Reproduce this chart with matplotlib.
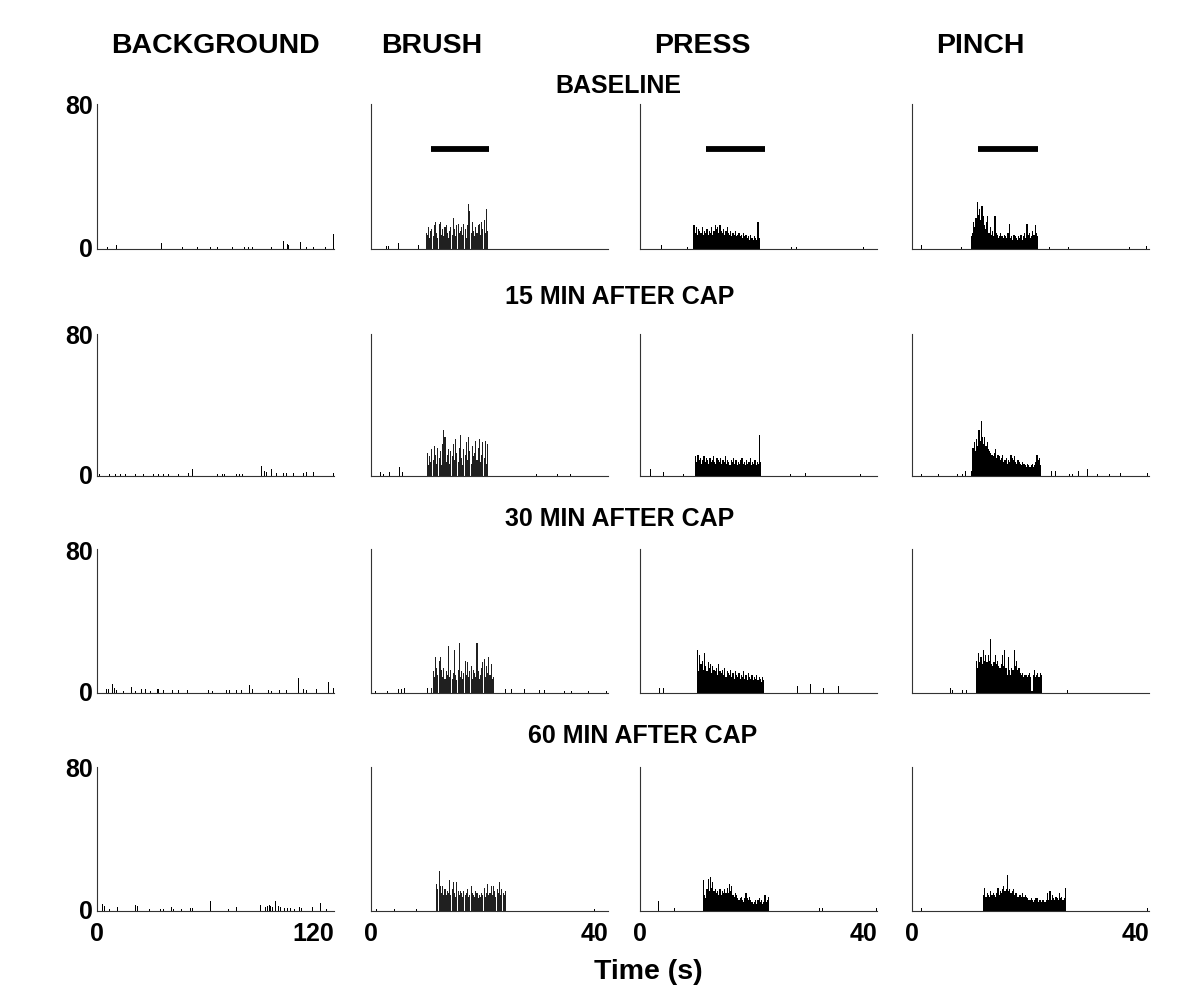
import matplotlib
matplotlib.use("Agg")
import matplotlib.pyplot as plt
import numpy as np

plt.rcParams['font.family'] = ['Liberation Sans', 'DejaVu Sans']

# ---------------- data ----------------
col_titles = ["BACKGROUND", "BRUSH", "PRESS", "PINCH"]
row_titles = ["BASELINE", "15 MIN AFTER CAP", "30 MIN AFTER CAP", "60 MIN AFTER CAP"]
y_max = 80
bg_range = 120
stim_range = 40
bin_w = 0.2      # s, for the 40-s stimulus panels
bg_bin_w = 0.5   # s, for the background panels

# Background panels: spike times (s) and rates (Hz)
bg0_t = [5.1, 9.7, 32.2, 42.9, 50.6, 57.1, 60.8, 67.6, 68.5, 74.4, 76.5, 78.7, 88.1,
         94.0, 96.1, 96.9, 102.9, 105.9, 109.4, 115.3, 119.4]
bg0_v = [1, 2.4, 3.3, 1, 1, 1, 1, 1, 1, 1, 1, 1.3, 1, 4.2, 3, 2, 3.9, 1, 1, 1, 8.3]
bg1_t = [1.2, 3.8, 6.3, 8.9, 11.4, 14.0, 19.1, 23.3, 28.5, 31.0, 33.6, 36.1, 41.2, 46.3,
         48.0, 60.8, 63.4, 64.2, 70.2, 71.9, 73.6, 82.9, 83.8, 84.6, 85.5, 88.1, 90.6,
         94.0, 95.7, 99.1, 104.2, 105.9, 107.6, 109.3, 119.4]
bg1_v = [1, 1, 1, 1, 1, 1, 1, 1, 1, 1, 1, 1, 1, 1.5, 3.7, 1, 1, 1, 1, 1, 1, 5.9, 2, 3,
         2.5, 3.7, 1.5, 1.5, 1.5, 1.5, 1.5, 2, 2.5, 2.5, 1.5]
bg2_t = [4.6, 5.5, 7.5, 8.5, 9.7, 13.1, 17.0, 19.1, 22.5, 24.2, 26.7, 30.2, 31.0, 33.6,
         37.8, 41.2, 45.5, 56.2, 58.3, 65.1, 66.8, 70.2, 72.8, 77.0, 78.7, 83.8, 86.4,
         88.1, 92.3, 95.7, 101.7, 104.2, 105.9, 111.1, 117.0, 119.4]
bg2_v = [2, 2.5, 5, 3, 1.5, 1, 3.5, 1, 2.5, 2.5, 1, 2, 2, 1.5, 1.5, 1.5, 1.5, 1.5, 1,
         1.5, 1.5, 1.5, 1.5, 4.2, 2, 1.5, 1.5, 1, 1.5, 1.5, 8.3, 2, 1.5, 2.5, 6, 3]
bg3_t = [2.6, 3.4, 5.9, 10.2, 19.1, 20.1, 26.4, 32.0, 33.2, 37.5, 38.3, 42.6, 47.3, 48.2,
         57.4, 66.4, 67.6, 70.2, 82.6, 85.2, 86.0, 86.9, 87.7, 88.6, 90.3, 91.5, 92.8,
         94.5, 96.2, 97.9, 99.6, 102.2, 103.1, 109.0, 112.8, 115.9]
bg3_v = [4, 3, 1, 2, 3.3, 3, 1.3, 1, 1, 2, 1, 1, 1.5, 1.5, 5.5, 1, 1, 2, 3.3, 2, 3, 3.3,
         3, 2.5, 5.5, 3, 2, 1.5, 1.5, 1.5, 1, 2, 1.5, 2, 4.6, 1]

# Stimulus panels: response onset (s) and binned rates (Hz, 0.2-s bins)
brush_start = [9.2, 9.4, 10.2, 11.0]
brush0 = [9, 8, 12, 6, 10, 11, 7, 13, 15, 9, 6, 14, 15, 8, 11, 7, 12, 13, 9, 6, 10, 12, 8, 17,
          11, 7, 13, 14, 9, 10, 12, 8, 14, 11, 6, 13, 25, 21, 9, 15, 10, 7, 12, 9, 13, 14, 8,
          15, 11, 16, 9, 22, 10]
brush1 = [13, 6, 11, 8, 15, 9, 17, 12, 7, 16, 10, 14, 6, 18, 26, 22, 8, 12, 15, 7, 14, 11, 18,
          9, 21, 13, 8, 16, 23, 10, 6, 15, 12, 19, 9, 22, 14, 7, 17, 11, 13, 20, 9, 16, 21, 8,
          12, 19, 10, 20, 7, 18]
brush2 = [3, 12, 9, 20, 14, 10, 18, 20, 13, 9, 14, 8, 12, 10, 26, 9, 13, 8, 11, 24, 10, 7, 13,
          28, 9, 12, 8, 11, 18, 10, 17, 9, 12, 15, 8, 13, 11, 9, 28, 12, 8, 10, 14, 17, 19, 9,
          15, 11, 20, 10, 16, 8, 9]
brush3 = [15, 12, 22, 14, 10, 14, 9, 12, 9, 11, 10, 17, 9, 12, 16, 10, 8, 16, 11, 9, 11, 10, 8,
          11, 9, 10, 12, 8, 9, 14, 10, 9, 8, 11, 10, 7, 9, 8, 10, 9, 13, 8, 10, 15, 9, 10, 14,
          9, 14, 11, 8, 12, 10, 16, 9, 12, 10, 9, 11]

press_start = [9.0, 9.3, 9.6, 10.6]
press0 = [13, 9, 12, 8, 11, 10, 9, 12, 8, 10, 9, 11, 8, 10, 9, 12, 8, 10, 13, 11, 12, 9, 13, 10,
          9, 11, 8, 10, 12, 9, 8, 10, 7, 9, 8, 10, 7, 8, 9, 7, 8, 6, 9, 7, 8, 6, 7, 5, 8, 6, 5,
          7, 6, 5, 15, 6]
press1 = [11, 8, 12, 9, 10, 7, 9, 11, 8, 10, 9, 7, 10, 8, 9, 11, 8, 7, 10, 9, 8, 10, 7, 9, 8,
          11, 7, 9, 8, 6, 9, 8, 10, 7, 9, 6, 8, 7, 9, 10, 7, 8, 6, 9, 7, 8, 10, 6, 8, 7, 9, 6,
          8, 7, 23, 8]
press2 = [24, 12, 21, 16, 18, 13, 22, 15, 12, 17, 14, 16, 11, 15, 13, 12, 14, 10, 16, 12, 11,
          13, 10, 14, 9, 12, 11, 10, 13, 9, 11, 8, 12, 10, 9, 11, 8, 10, 9, 12, 8, 10, 7, 11, 9,
          8, 10, 7, 9, 8, 10, 7, 9, 8, 6, 9, 7]
press3 = [17, 9, 7, 12, 18, 11, 19, 13, 16, 11, 12, 10, 11, 9, 12, 9, 11, 10, 12, 10,
          13, 10, 15, 11, 14, 9, 8, 10, 9, 7, 6, 7, 8, 6, 5, 7, 10, 7, 6, 8, 6, 5,
          4, 5, 6, 4, 6, 7, 5, 6, 4, 5, 9, 5, 6, 8]

pinch_start = [9.9, 10.2, 10.75, 12.0]
pinch0 = [7, 9, 15, 12, 17, 26, 19, 22, 16, 24, 18, 13, 11, 15, 18, 9, 12, 8, 10, 7, 18, 9, 8,
          6, 7, 9, 7, 6, 8, 7, 6, 9, 14, 6, 7, 5, 8, 7, 6, 5, 7, 6, 8, 5, 7, 9, 6, 14, 8, 9, 6,
          7, 10, 8, 13, 9, 7]
pinch1 = [16, 19, 14, 21, 17, 26, 20, 31, 22, 18, 22, 17, 19, 15, 14, 13, 12, 11, 13, 15, 10,
          12, 11, 9, 10, 12, 8, 9, 10, 7, 9, 8, 12, 10, 9, 11, 8, 7, 9, 8, 7, 6, 8, 7, 6, 5, 7,
          6, 5, 6, 7, 5, 6, 8, 12, 9, 10, 6]
pinch2 = [18, 14, 22, 17, 20, 16, 24, 18, 21, 17, 21, 18, 30, 16, 15, 17, 21, 16, 18, 15, 14,
          16, 21, 15, 24, 14, 10, 20, 13, 10, 14, 13, 24, 15, 18, 13, 14, 11, 10, 11, 9, 10, 10,
          9, 10, 11, 9, 1, 10, 13, 9, 10, 11, 9, 11, 10]
pinch3 = [9, 13, 8, 10, 9, 8, 11, 9, 10, 9, 8, 10, 13, 9, 11, 10, 12, 14, 11, 12, 20, 11, 12,
          10, 11, 12, 9, 10, 10, 8, 9, 9, 8, 10, 8, 9, 8, 7, 6, 6, 7, 6, 5, 6, 7, 7, 5, 6, 6, 5,
          6, 5, 5, 6, 10, 6, 11, 6, 9, 7, 6, 8, 7, 6, 10, 7, 8, 6, 7, 13]

# Sparse spikes outside the response windows (time s, rate Hz)
brush_out_t = [[2.6, 2.9, 4.5, 8.0], [1.5, 2.1, 3.1, 4.7, 5.2, 27.8, 31.4, 33.6],
               [0.7, 2.7, 4.5, 5.0, 5.6, 9.4, 22.7, 23.6, 25.8, 28.4, 29.2, 32.6, 33.7, 36.6, 39.7],
               [0.8, 2.8, 3.9, 7.6, 29.8, 37.6]]
brush_out_v = [[1.5, 1.5, 3.3, 2], [2, 1, 2, 5, 2, 1, 1, 1],
               [1, 1, 2, 2, 3, 3, 2, 2, 2, 1.5, 1.5, 1, 1, 1, 1],
               [1, 1, 1, 1, 1, 1]]
press_out_t = [[3.5, 8.0, 25.5, 26.3, 37.6], [1.7, 3.9, 7.3, 25.3, 27.8, 32.0, 37.1],
               [3.2, 3.9, 26.5, 28.7, 30.9, 33.4], [3.0, 5.8, 30.2, 30.8, 39.9]]
press_out_v = [[2, 1, 1, 1, 1], [4, 2, 1, 1, 1.5, 1, 1],
               [3, 3, 4, 5, 3, 4], [5.5, 1.5, 1.5, 1.5, 1.5]]
pinch_out_t = [[1.6, 8.3, 23.2, 23.9, 24.9, 26.3, 36.7, 39.5],
               [1.6, 3.3, 4.4, 7.6, 8.5, 9.0, 9.9, 23.4, 24.2, 26.5, 27.0, 28.0, 29.3, 29.5,
                31.3, 33.2, 35.1, 39.6],
               [6.4, 6.7, 8.5, 9.1, 26.1, 37.9], [1.6, 39.6]]
pinch_out_v = [[2, 1, 1, 1, 1, 1, 1, 1.5],
               [1, 1, 1, 1, 1, 3, 3, 3, 3, 1, 1, 3, 4, 4, 1, 1, 1.5, 1.5],
               [3, 1.5, 1.5, 1.5, 1.5, 6.4], [1.5, 1.5]]

# Stimulus bars (baseline row): start, end (s) and level
stim_bar_start = [10.2, 11.1, 11.1]
stim_bar_end = [20.0, 21.1, 21.2]
stim_bar_level = 55

bg_t = [bg0_t, bg1_t, bg2_t, bg3_t]
bg_v = [bg0_v, bg1_v, bg2_v, bg3_v]
stim_vals = [[brush0, brush1, brush2, brush3],
             [press0, press1, press2, press3],
             [pinch0, pinch1, pinch2, pinch3]]
stim_starts = [brush_start, press_start, pinch_start]
out_t = [brush_out_t, press_out_t, pinch_out_t]
out_v = [brush_out_v, press_out_v, pinch_out_v]

# ---------------- layout ----------------
W, H = 1200, 1004
fig = plt.figure(figsize=(W / 100, H / 100), dpi=100)

col_left = [97, 371, 640, 912]
col_w = 237
row_top = [105, 335, 550, 768]
row_bot = [250, 477, 694, 912]


def add_ax(c, r):
    l = col_left[c] / W
    b = 1 - row_bot[r] / H
    h = (row_bot[r] - row_top[r]) / H
    return fig.add_axes([l, b, col_w / W, h])


for r in range(4):
    for c in range(4):
        ax = add_ax(c, r)
        if c == 0:
            ax.bar(bg_t[r], bg_v[r], width=bg_bin_w, align='edge', color='black', linewidth=0)
            ax.set_xlim(0, bg_range)
        else:
            k = c - 1
            vals = stim_vals[k][r]
            x0 = stim_starts[k][r]
            xs = x0 + bin_w * np.arange(len(vals))
            w = bin_w * 0.88 if k == 0 else bin_w
            col = '#202020' if k == 0 else 'black'
            ax.bar(xs, vals, width=w, align='edge', color=col, linewidth=0)
            ax.bar(out_t[k][r], out_v[k][r], width=0.15, align='edge', color='black', linewidth=0)
            ax.set_xlim(0, stim_range)
            if r == 0:
                ax.plot([stim_bar_start[k], stim_bar_end[k]], [stim_bar_level, stim_bar_level],
                        color='black', linewidth=4.2, solid_capstyle='butt')
        ax.set_ylim(0, y_max)
        for s in ['top', 'right']:
            ax.spines[s].set_visible(False)
        for s in ['left', 'bottom']:
            ax.spines[s].set_linewidth(0.8)
            ax.spines[s].set_color('#333333')
        ax.tick_params(length=0)
        if c == 0:
            ax.set_yticks([0, y_max])
            ax.set_yticklabels(['0', str(y_max)], fontsize=18, fontweight='bold')
            ax.tick_params(axis='y', pad=3)
            ax.get_yticklabels()[0].set_verticalalignment('center')
        else:
            ax.set_yticks([])
        if r == 3:
            xm = bg_range if c == 0 else stim_range
            ax.set_xticks([0, xm])
            labs = ax.set_xticklabels(['0', str(xm)], fontsize=18, fontweight='bold')
            labs[1].set_horizontalalignment('right')
            ax.tick_params(axis='x', pad=7)
        else:
            ax.set_xticks([])


def ftext(x, y, s, size):
    fig.text(x / W, 1 - y / H, s, ha='center', va='center', fontsize=size, fontweight='bold')


for x, s in zip([215, 432, 702, 980], col_titles):
    ftext(x, 46, s, 20.5)
for (x, y), s in zip([(618, 86), (620, 297), (620, 519), (643, 736)], row_titles):
    ftext(x, y, s, 18)
ftext(648, 972, "Time (s)", 20.5)

fig.savefig("out.png", dpi=100)
